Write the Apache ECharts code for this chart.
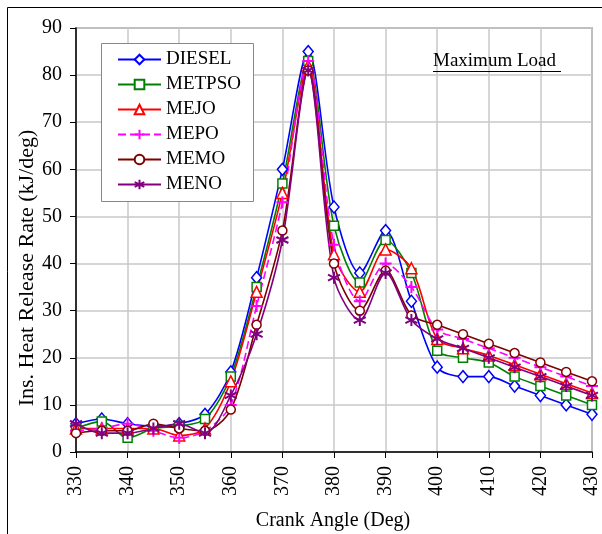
<!DOCTYPE html>
<html>
<head>
<meta charset="utf-8">
<script src="https://cdn.jsdelivr.net/npm/echarts@6/dist/echarts.min.js"></script>
<style>
  html, body { margin: 0; padding: 0; background: #fff; }
  #chart { width: 602px; height: 534px; }
</style>
</head>
<body>
<div id="chart"></div>
<script>
// Crank angle positions (deg)
const crankAngles = [330, 335, 340, 345, 350, 355, 360, 365, 370, 375, 380, 385, 390, 395, 400, 405, 410, 415, 420, 425, 430];

// Instantaneous heat release rate (kJ/deg) for each fuel
const diesel = [6, 7, 6, 5.5, 6, 8, 17, 37, 60, 85, 52, 38, 47, 32, 18, 16, 16, 14, 12, 10, 8];
const metpso = [5, 6.5, 3, 5, 5.5, 7, 16, 35, 57, 83, 48, 36, 45, 38, 21.5, 20, 19, 16, 14, 12, 10];
const mejo   = [5, 5, 5, 5, 3.5, 5, 15, 34, 55, 82, 42, 34, 43, 39, 24, 22, 20.5, 18.5, 16.5, 14.5, 12.5];
const mepo   = [4.5, 5, 6, 4.5, 3, 4.5, 10, 31, 53, 83, 44, 32, 40, 35, 26, 24, 22, 20, 18, 16, 14];
const memo   = [4, 4.5, 4.5, 6, 5, 4.5, 9, 27, 47, 81, 40, 30, 38.5, 29, 27, 25, 23, 21, 19, 17, 15];
const meno   = [6, 4, 4, 5, 6, 4, 12, 25, 45, 81, 37, 28, 38, 28, 24, 22, 20, 18, 16, 14, 12];

// Axis ticks
const yTicks = [0, 10, 20, 30, 40, 50, 60, 70, 80, 90];
const xTicks = [330, 340, 350, 360, 370, 380, 390, 400, 410, 420, 430];

const serifFont = '"Liberation Serif", "Times New Roman", serif';

const plusPath = 'path://M5,0L5,10M0,5L10,5';
const starPath = 'path://M5,0L5,10M0.7,2.5L9.3,7.5M0.7,7.5L9.3,2.5';

function pairs(values) {
  return crankAngles.map((a, i) => [a, values[i]]);
}

function lineSeries(name, values, color, symbol, size, dashed, markWidth) {
  return {
    name: name,
    type: 'line',
    data: pairs(values),
    smooth: 0.3,
    symbol: symbol,
    symbolSize: size,
    showAllSymbol: true,
    lineStyle: { color: color, width: 1.6, type: dashed || 'solid' },
    itemStyle: { color: '#fff', borderColor: color, borderWidth: markWidth || 1.5 },
    emphasis: { disabled: true },
    animation: false,
    z: 2
  };
}

const chart = echarts.init(document.getElementById('chart'), null, { renderer: 'canvas' });

chart.setOption({
  backgroundColor: '#fff',
  animation: false,
  grid: {
    left: 76, right: 10, top: 28, bottom: 82,
    show: true, borderColor: '#888', borderWidth: 1.5, backgroundColor: 'transparent'
  },
  legend: {
    orient: 'vertical',
    left: 117, top: 50,
    z: 20,
    itemWidth: 43, itemHeight: 12, itemGap: 6,
    padding: 0,
    textStyle: { fontFamily: serifFont, fontSize: 19, color: '#000', padding: [0, 0, 0, 0] },
    data: ['DIESEL', 'METPSO', 'MEJO', 'MEPO', 'MEMO', 'MENO']
  },
  xAxis: {
    type: 'value',
    min: xTicks[0], max: xTicks[xTicks.length - 1], interval: 10,
    axisLine: { show: true, lineStyle: { color: '#000', width: 1.5 } },
    axisTick: { show: true, inside: false, length: 6, lineStyle: { color: '#000' } },
    axisLabel: { rotate: 90, margin: 14, fontFamily: serifFont, fontSize: 20, color: '#000' },
    splitLine: { show: true, lineStyle: { color: '#c8c8c8', width: 1.5 } }
  },
  yAxis: {
    type: 'value',
    min: yTicks[0], max: yTicks[yTicks.length - 1], interval: 10,
    axisLine: { show: true, lineStyle: { color: '#000', width: 1.5 } },
    axisTick: { show: true, inside: false, length: 6, lineStyle: { color: '#000' } },
    axisLabel: { margin: 14, fontFamily: serifFont, fontSize: 20, color: '#000' },
    splitLine: { show: true, lineStyle: { color: '#c8c8c8', width: 1.5 } }
  },
  graphic: [
    // outer frame
    { type: 'rect', shape: { x: 7.5, y: 7.5, width: 640, height: 560 },
      style: { fill: 'none', stroke: '#000', lineWidth: 1 }, silent: true, z: 100 },
    // legend box
    { type: 'rect', shape: { x: 101.5, y: 43.5, width: 152, height: 158 },
      style: { fill: '#fff', stroke: '#888', lineWidth: 1 }, silent: true, z: 1 },
    // annotation
    { type: 'text', left: 433, top: 52,
      style: { text: 'Maximum Load', font: '19px ' + serifFont, fill: '#000' }, z: 10 },
    { type: 'line', shape: { x1: 433, y1: 71.5, x2: 561, y2: 71.5 },
      style: { stroke: '#000', lineWidth: 1.2 }, z: 10 },
    // axis titles
    { type: 'text', x: 27, y: 268, rotation: Math.PI / 2,
      style: { text: 'Ins. Heat Release Rate (kJ/deg)', font: '22px ' + serifFont, fill: '#000',
        align: 'center', verticalAlign: 'middle' }, z: 10 },
    { type: 'text', x: 333, y: 521,
      style: { text: 'Crank Angle (Deg)', font: '20px ' + serifFont, fill: '#000',
        align: 'center', verticalAlign: 'middle' }, z: 10 }
  ],
  series: [
    lineSeries('DIESEL', diesel, '#0000ff', 'diamond', [10, 12]),
    lineSeries('METPSO', metpso, '#008000', 'rect', 9),
    lineSeries('MEJO', mejo, '#ff0000', 'triangle', 11),
    lineSeries('MEPO', mepo, '#ff00ff', plusPath, 12, [8, 4], 2),
    lineSeries('MEMO', memo, '#800000', 'circle', 9),
    lineSeries('MENO', meno, '#800080', starPath, 12, null, 2)
  ]
});
</script>
</body>
</html>
